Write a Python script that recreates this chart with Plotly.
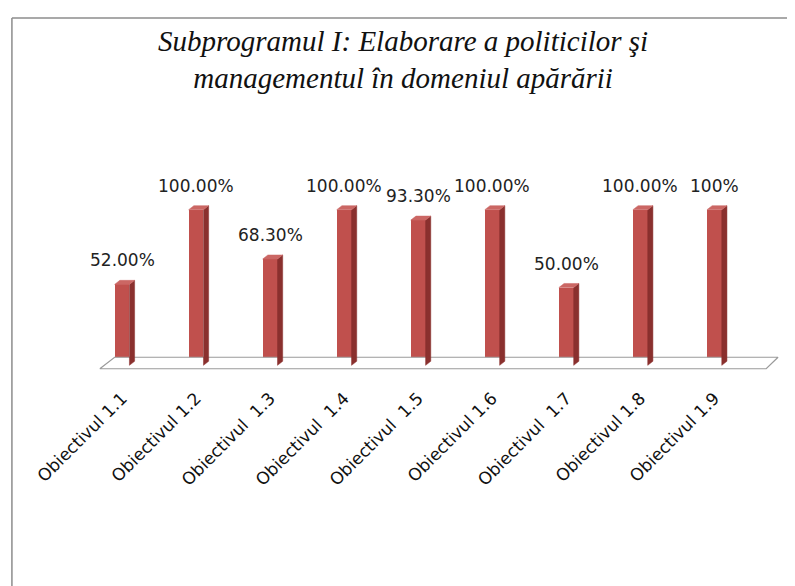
import plotly.graph_objects as go

categories = ["Obiectivul 1.1", "Obiectivul 1.2", "Obiectivul\u00a0 1.3", "Obiectivul\u00a0 1.4",
              "Obiectivul\u00a0 1.5", "Obiectivul 1.6", "Obiectivul\u00a0 1.7", "Obiectivul 1.8",
              "Obiectivul 1.9"]
values = [52.0, 100.0, 68.3, 100.0, 93.3, 100.0, 50.0, 100.0, 100.0]
value_labels = ["52.00%", "100.00%", "68.30%", "100.00%", "93.30%", "100.00%", "50.00%", "100.00%", "100%"]
title_text = "Subprogramul I: Elaborare a politicilor şi<br>managementul în domeniul apărării"

FRONT = "#C0504D"
SIDE = "#8A302E"
TOP = "#CB6764"

idx = list(range(len(values)))
w = 0.2      # bar width in category units
dx = 0.07    # 3-D depth offset (x)
dy = 2.6     # 3-D depth offset (y, value units)

fig = go.Figure()

# floor
fx = [-0.3, 8.7, 8.86, -0.1, -0.3]
fy = [-2.2, -2.2, 5.2, 5.2, -2.2]
fig.add_trace(go.Scatter(x=fx, y=fy, mode="lines", fill="toself", fillcolor="white",
                         line=dict(color="#9a9a9a", width=1.2), hoverinfo="skip", showlegend=False))

# front faces
fig.add_trace(go.Bar(x=idx, y=values, width=w, marker=dict(color=FRONT, line=dict(width=0)),
                     showlegend=False))

# side faces and top faces
sx, sy, tx, ty = [], [], [], []
for i, v in zip(idx, values):
    r = i + w / 2
    l = i - w / 2
    sx += [r, r + dx, r + dx, r, r, None]
    sy += [0, dy, v + dy, v, 0, None]
    tx += [l, l + dx, r + dx, r, l, None]
    ty += [v, v + dy, v + dy, v, v, None]
fig.add_trace(go.Scatter(x=sx, y=sy, mode="lines", fill="toself", fillcolor=SIDE,
                         line=dict(width=0.5, color=SIDE), hoverinfo="skip", showlegend=False))
fig.add_trace(go.Scatter(x=tx, y=ty, mode="lines", fill="toself", fillcolor=TOP,
                         line=dict(width=0.5, color=TOP), hoverinfo="skip", showlegend=False))

for i, v, t in zip(idx, values, value_labels):
    fig.add_annotation(x=i, y=v, text=t, showarrow=False, yanchor="bottom", yshift=12,
                       font=dict(family="DejaVu Sans", size=17, color="#222"))

L, T, B = 77, 155, 224
fig.update_layout(
    width=795, height=586,
    margin=dict(l=L, r=22, t=T, b=B),
    paper_bgcolor="white", plot_bgcolor="white",
    title=dict(text=title_text, x=0.497, xanchor="center", y=0.927, yanchor="top",
               font=dict(family="Liberation Serif", size=29, color="#111", style="italic")),
    xaxis=dict(range=[-0.5, 8.9], tickmode="array", tickvals=idx, ticktext=categories,
               tickangle=-45, showgrid=False, zeroline=False, showline=False, ticks="",
               ticklabelstandoff=14,
               tickfont=dict(family="DejaVu Sans", size=17, color="#111")),
    yaxis=dict(range=[-3, 130], visible=False),
    bargap=0,
    shapes=[
        dict(type="line", xref="paper", yref="paper", x0=-0.105, x1=-0.105, y0=1.7, y1=-1.2,
             line=dict(color="#8c8c8c", width=1.5)),
        dict(type="line", xref="paper", yref="paper", x0=-0.105, x1=1.05, y0=1.7, y1=1.7,
             line=dict(color="#8c8c8c", width=1.5)),
    ],
)

fig.write_html("out.html")
